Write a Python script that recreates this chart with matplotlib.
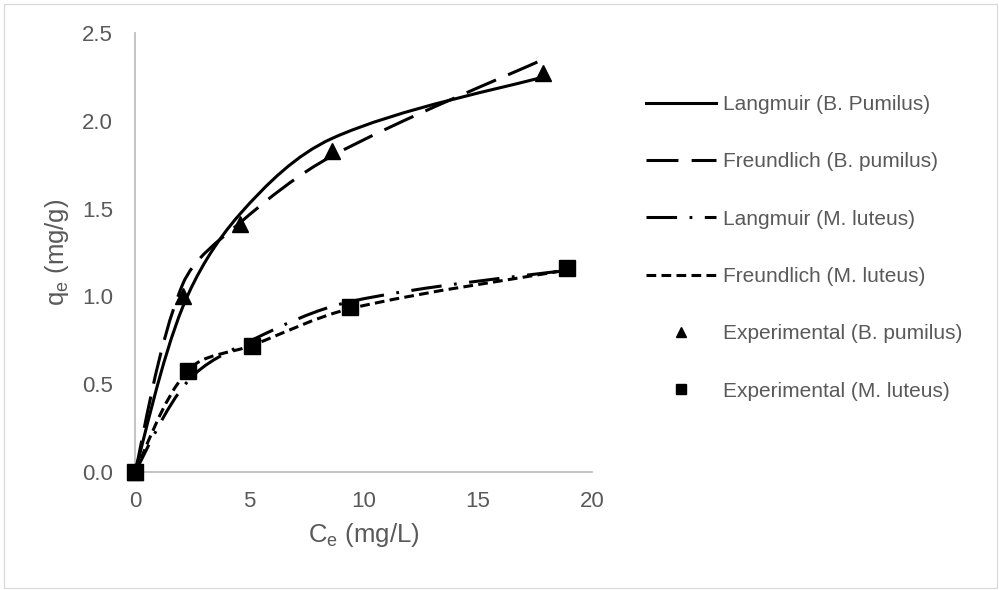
import matplotlib
matplotlib.use("Agg")
import matplotlib.pyplot as plt
from matplotlib.path import Path
from matplotlib.patches import PathPatch, Rectangle
from matplotlib.lines import Line2D
import numpy as np

# ---- data ----
ce_bp = [0, 2.09, 4.60, 8.63, 17.87]
qe_bp_exp = [0, 1.00, 1.41, 1.83, 2.27]
qe_bp_langmuir = [0, 0.94, 1.47, 1.90, 2.25]
qe_bp_freundlich = [0, 1.07, 1.42, 1.80, 2.35]

ce_ml = [0, 2.33, 5.10, 9.41, 18.92]
qe_ml_exp = [0, 0.575, 0.717, 0.938, 1.16]
qe_ml_langmuir = [0, 0.52, 0.75, 0.97, 1.15]
qe_ml_freundlich = [0, 0.58, 0.72, 0.93, 1.15]

labels = ["Langmuir (B. Pumilus)", "Freundlich (B. pumilus)", "Langmuir (M. luteus)",
          "Freundlich (M. luteus)", "Experimental (B. pumilus)", "Experimental (M. luteus)"]
x_ticks = [0, 5, 10, 15, 20]
y_ticks = [0.0, 0.5, 1.0, 1.5, 2.0, 2.5]

plt.rcParams['font.family'] = ['Liberation Sans', 'DejaVu Sans']
plt.rcParams['mathtext.default'] = 'regular'
plt.rcParams['lines.scale_dashes'] = False

W, H = 999, 590
fig = plt.figure(figsize=(W / 100, H / 100), dpi=100)
fig.patches.append(Rectangle((4 / W, 2 / H), 993 / W, 584 / H, transform=fig.transFigure,
                             fill=False, edgecolor='#d9d9d9', linewidth=0.9))
ax = fig.add_axes([135 / W, 1 - 472 / H, (592 - 135) / W, (472 - 33) / H])
ax.set_xlim(0, 20)
ax.set_ylim(0, 2.5)

TXT = '#595959'
AXC = '#bfbfbf'
FS_TICK = 16
FS_TITLE = 18.5
FS_LEG = 15


def smooth_path(xs, ys):
    """Smoothed (Bezier) path through the points, built in display space."""
    pts = ax.transData.transform(np.column_stack([xs, ys]).astype(float))
    n = len(pts)
    tang = []
    for i in range(n):
        if i == 0:
            d = pts[1] - pts[0]
        elif i == n - 1:
            d = pts[-1] - pts[-2]
        else:
            d = pts[i + 1] - pts[i - 1]
        tang.append(d / np.linalg.norm(d))
    verts = [pts[0]]
    codes = [Path.MOVETO]
    for i in range(n - 1):
        p1, p2 = pts[i], pts[i + 1]
        L = np.linalg.norm(p2 - p1)
        f1 = 1 / 6 if i == 0 else 1 / 3
        f2 = 1 / 6 if i + 1 == n - 1 else 1 / 3
        c1 = p1 + tang[i] * L * f1
        c2 = p2 - tang[i + 1] * L * f2
        verts += [c1, c2, p2]
        codes += [Path.CURVE4] * 3
    verts = ax.transData.inverted().transform(np.array(verts))
    return Path(verts, codes)


LW = 2.2
styles = [
    dict(linestyle='-'),
    dict(linestyle=(0, (23, 9.5))),
    dict(linestyle=(0, (22, 9, 2, 9))),
    dict(linestyle=(0, (7, 3.8))),
]
series = [(ce_bp, qe_bp_langmuir), (ce_bp, qe_bp_freundlich),
          (ce_ml, qe_ml_langmuir), (ce_ml, qe_ml_freundlich)]
handles = []
for (xs, ys), st, lab in zip(series, styles, labels[:4]):
    patch = PathPatch(smooth_path(xs, ys), facecolor='none', edgecolor='black',
                      linewidth=LW, capstyle='butt', zorder=3, **st)
    ax.add_patch(patch)
    handles.append(Line2D([], [], color='black', linewidth=LW, **st))

ax.plot(ce_bp, qe_bp_exp, linestyle='none', marker='^', markersize=12, color='black',
        zorder=4, clip_on=False)
ax.plot(ce_ml, qe_ml_exp, linestyle='none', marker='s', markersize=11.5, color='black',
        zorder=5, clip_on=False)
handles.append(Line2D([], [], linestyle='none', marker='^', markersize=7.5, color='black'))
handles.append(Line2D([], [], linestyle='none', marker='s', markersize=7.5, color='black'))

for s in ['top', 'right']:
    ax.spines[s].set_visible(False)
for s in ['left', 'bottom']:
    ax.spines[s].set_color(AXC)
    ax.spines[s].set_linewidth(1.3)
ax.set_xticks(x_ticks)
ax.set_yticks(y_ticks)
ax.set_xticklabels([str(v) for v in x_ticks])
ax.set_yticklabels([f"{v:.1f}" for v in y_ticks])
ax.tick_params(length=0, labelsize=FS_TICK, labelcolor=TXT)
ax.tick_params(axis='y', pad=16)
ax.tick_params(axis='x', pad=14)

ax.set_xlabel("C$_e$ (mg/L)", fontsize=FS_TITLE, color=TXT, labelpad=6)
ax.set_ylabel("q$_e$ (mg/g)", fontsize=FS_TITLE, color=TXT, labelpad=8)

leg = fig.legend(handles, labels, loc='upper left', bbox_to_anchor=(646 / W, 1 - 95 / H),
                 frameon=False, fontsize=FS_LEG, handlelength=3.35, handletextpad=0.35,
                 labelspacing=1.84, borderpad=0, borderaxespad=0)
for t in leg.get_texts():
    t.set_color(TXT)

fig.savefig("out.png", dpi=100)
